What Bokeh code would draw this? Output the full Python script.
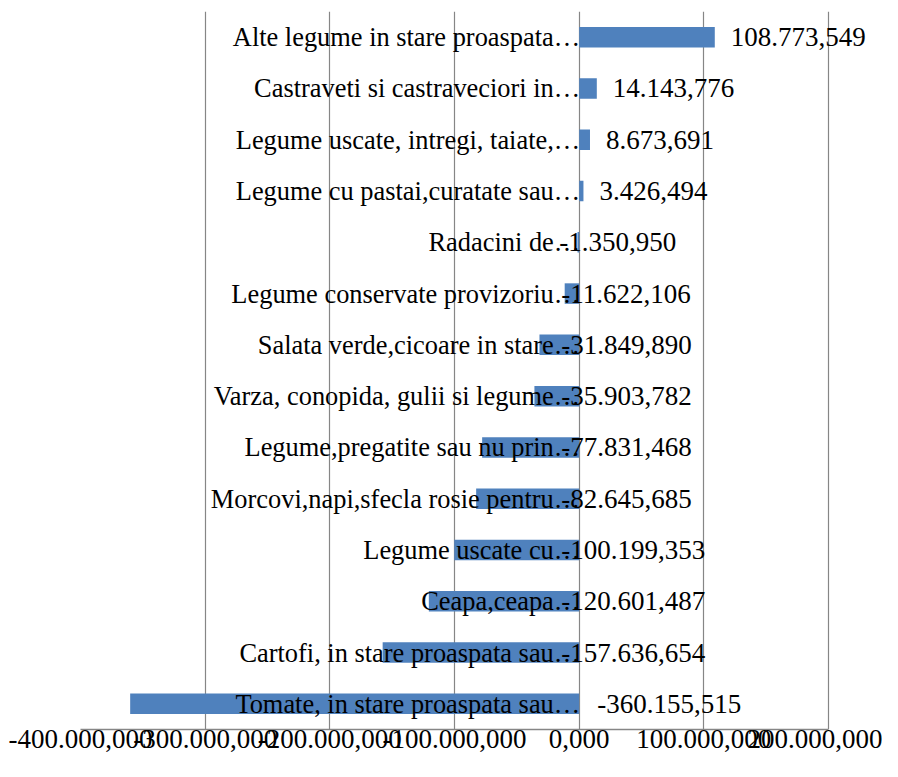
from bokeh.plotting import figure
from bokeh.models import FixedTicker, ColumnDataSource
from bokeh.core.properties import value
from bokeh.embed import file_html
from bokeh.resources import INLINE

# ---- data (top to bottom as shown) ----
categories = [
    "Alte legume in stare proaspata…",
    "Castraveti si castraveciori in…",
    "Legume uscate, intregi, taiate,…",
    "Legume cu pastai,curatate sau…",
    "Radacini de…",
    "Legume conservate provizoriu…",
    "Salata verde,cicoare in stare…",
    "Varza, conopida, gulii si legume…",
    "Legume,pregatite sau nu prin…",
    "Morcovi,napi,sfecla rosie pentru…",
    "Legume uscate cu…",
    "Ceapa,ceapa…",
    "Cartofi, in stare proaspata sau…",
    "Tomate, in stare proaspata sau…",
]
values = [108773.549, 14143.776, 8673.691, 3426.494, -1350.950, -11622.106,
          -31849.890, -35903.782, -77831.468, -82645.685, -100199.353,
          -120601.487, -157636.654, -360155.515]
x_ticks = [-400000, -300000, -200000, -100000, 0, 100000, 200000]

# ---- style ----
FONT = "Liberation Serif"
FS = "27px"
FS_CAT = "26.4px"
BLUE = "#4F81BD"
GRID = "#868686"
label_offsets = [16, 16, 16, 16, -20, -18, -18, -18, -18, -18, -18, -18, -18, 18]
X_END = 243300  # extra room on the right so value labels are not clipped


def ro_fmt(v):
    s = f"{abs(v):,.3f}".replace(",", "#").replace(".", ",").replace("#", ".")
    return ("-" if v < 0 else "") + s


y_factors = list(reversed(categories))

p = figure(width=882, height=761, y_range=y_factors, x_range=(x_ticks[0], X_END),
           output_backend="svg", toolbar_location=None,
           min_border_left=80, min_border_right=0, min_border_top=11, min_border_bottom=32)
p.outline_line_color = None
p.background_fill_color = "white"
p.border_fill_color = "white"

src = ColumnDataSource(dict(
    cat=categories,
    val=values,
    zero=[0] * len(values),
    anchor=[max(v, 0) for v in values],
    lab=[ro_fmt(v) for v in values],
    off=label_offsets,
))

p.hbar(y="cat", left=0, right="val", height=0.4, source=src,
       fill_color=BLUE, line_color=None)

# category labels next to zero axis
p.text(x="zero", y="cat", text="cat", source=src, x_offset=1,
       text_align="right", text_baseline="middle",
       text_font=value(FONT), text_font_size=FS_CAT, text_color="black")

# data labels
p.text(x="anchor", y="cat", text="lab", source=src, x_offset="off",
       text_align="left", text_baseline="middle",
       text_font=value(FONT), text_font_size=FS, text_color="black")

# axes / grid
p.yaxis.visible = False
p.ygrid.grid_line_color = None
p.xgrid.ticker = FixedTicker(ticks=x_ticks)
p.xgrid.grid_line_color = GRID
p.xgrid.grid_line_width = 1.2

xa = p.xaxis[0]
xa.ticker = FixedTicker(ticks=x_ticks)
xa.bounds = (x_ticks[0], x_ticks[-1])
xa.major_label_overrides = {t: ro_fmt(t) for t in x_ticks}
xa.axis_line_color = GRID
xa.axis_line_width = 1.5
xa.major_tick_line_color = None
xa.minor_tick_line_color = None
xa.major_tick_out = 0
xa.major_tick_in = 0
xa.major_label_standoff = 0
xa.major_label_text_font = FONT
xa.major_label_text_font_size = FS
xa.major_label_text_color = "black"

open("out.html", "w").write(file_html(p, INLINE))
